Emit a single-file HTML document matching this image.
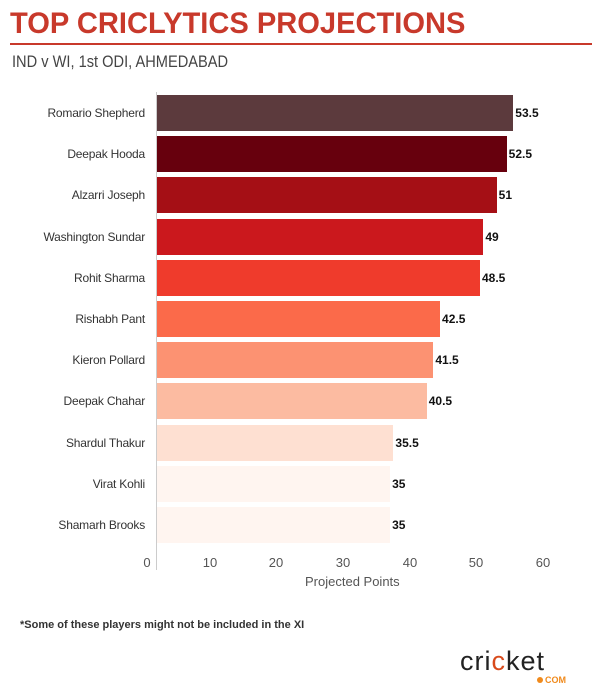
<!DOCTYPE html>
<html><head><style>
body{margin:0;width:600px;height:697px;background:#fff;font-family:"Liberation Sans",sans-serif;position:relative;overflow:hidden}
.a{position:absolute}
.lbl{position:absolute;right:455px;font-size:12px;color:#333;text-align:right;white-space:nowrap;letter-spacing:-0.2px}
.bar{position:absolute;left:157px;height:36px}
.val{position:absolute;font-size:12px;font-weight:bold;color:#111}
.tk{position:absolute;top:555px;font-size:13px;color:#555;width:30px;text-align:center}
</style></head><body>
<div class="a" style="left:10px;top:7px;font-size:30px;font-weight:bold;color:#c8392b;transform:scaleX(0.97);transform-origin:left">TOP CRICLYTICS PROJECTIONS</div>
<div class="a" style="left:10px;top:43px;width:582px;height:2px;background:#c8392b"></div>
<div class="a" style="left:12px;top:52px;font-size:17px;color:#444;transform:scaleX(0.86);transform-origin:left">IND v WI, 1st ODI, AHMEDABAD</div>
<div class="a" style="left:156px;top:92px;width:1px;height:478px;background:#ccc"></div>
<div id="c"></div>
<div class="tk" style="left:132px">0</div>
<div class="tk" style="left:195px">10</div>
<div class="tk" style="left:261px">20</div>
<div class="tk" style="left:328px">30</div>
<div class="tk" style="left:395px">40</div>
<div class="tk" style="left:461px">50</div>
<div class="tk" style="left:528px">60</div>
<div class="a" style="left:305px;top:574px;font-size:13px;color:#555">Projected Points</div>
<div class="a" style="left:20px;top:619px;font-size:11px;font-weight:bold;color:#333">*Some of these players might not be included in the XI</div>
<div class="a" style="left:460px;top:646px;font-size:27px;color:#222;letter-spacing:1px">cri<span style="color:#d84a1b">c</span>ket</div>
<div class="a" style="left:537px;top:675px;font-size:9px;font-weight:bold;color:#f08a1c"><span style="display:inline-block;width:6px;height:6px;border-radius:50%;background:#f08a1c;margin-right:2px"></span>COM</div>
<script>
var d=[["Romario Shepherd",53.5,"#5c3a3d"],["Deepak Hooda",52.5,"#67000d"],["Alzarri Joseph",51,"#a50f15"],["Washington Sundar",49,"#cb181d"],["Rohit Sharma",48.5,"#ef3b2c"],["Rishabh Pant",42.5,"#fb6a4a"],["Kieron Pollard",41.5,"#fc9272"],["Deepak Chahar",40.5,"#fcbba1"],["Shardul Thakur",35.5,"#fee0d2"],["Virat Kohli",35,"#fff5f0"],["Shamarh Brooks",35,"#fff5f0"]];
var h="";d.forEach(function(r,i){var t=95+i*41.2,w=r[1]*6.66;
h+='<div class="bar" style="top:'+t+'px;width:'+w+'px;background:'+r[2]+'"></div>';
h+='<div class="lbl" style="top:'+(t+11)+'px">'+r[0]+'</div>';
h+='<div class="val" style="top:'+(t+11)+'px;left:'+(159+w)+'px">'+r[1]+'</div>';});
document.getElementById("c").innerHTML=h;
</script>
</body></html>
